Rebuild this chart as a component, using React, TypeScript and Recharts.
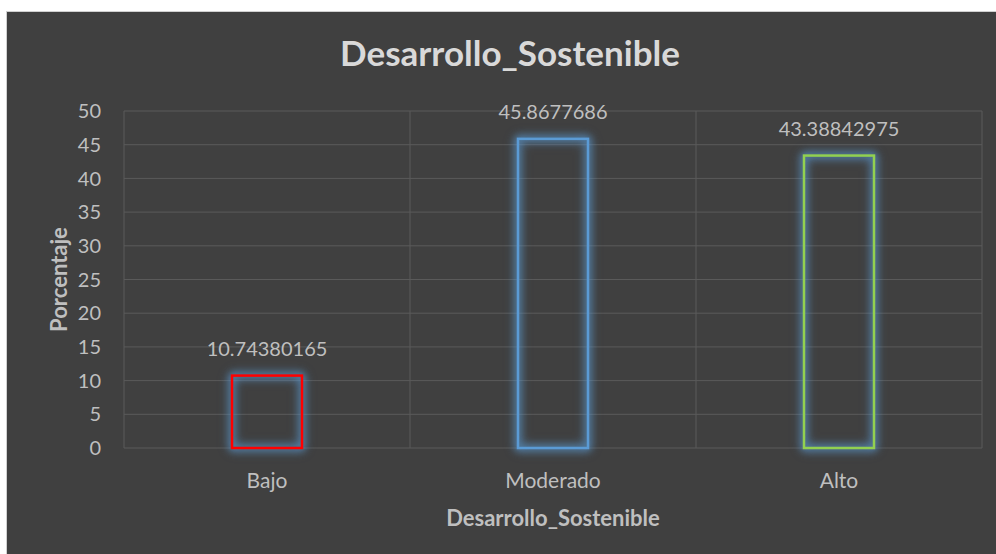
import React from "react";
import {
  BarChart,
  Bar,
  XAxis,
  YAxis,
  CartesianGrid,
  LabelList,
  Label,
} from "recharts";

const categories = ["Bajo", "Moderado", "Alto"];
const percentages = [10.74380165, 45.8677686, 43.38842975];
const barColors = ["#FF0000", "#5B9BD5", "#92D050"];
const yTicks = [0, 5, 10, 15, 20, 25, 30, 35, 40, 45, 50];

const data = categories.map((name, i) => ({
  name,
  value: percentages[i],
  slot: i + 0.5,
}));

const FONT = "Lato, 'Open Sans', sans-serif";
const TICK = { fontSize: 20, fill: "#BFBFBF", fontFamily: FONT };

// hollow bar with a soft blue glow around its outline
function GlowBar(props: any) {
  const { x, y, width, height, index } = props;
  return (
    <rect
      x={x}
      y={y}
      width={width}
      height={height}
      fill="none"
      stroke={barColors[index]}
      strokeWidth={2.5}
      style={{
        filter:
          "drop-shadow(0 0 5px rgba(91,155,213,1)) drop-shadow(0 0 3px rgba(91,155,213,0.8))",
      }}
    />
  );
}

export default function App() {
  return (
    <div
      style={{
        position: "absolute",
        left: 0,
        top: 0,
        width: 996,
        height: 554,
        background: "#FFFFFF",
        overflow: "hidden",
      }}
    >
      <div
        style={{
          position: "absolute",
          left: 6,
          top: 11,
          width: 996,
          height: 554,
          background: "#404040",
          borderLeft: "1px solid #D0D0D0",
          borderTop: "1px solid #D0D0D0",
        }}
      />
      <div
        style={{
          position: "absolute",
          left: 7,
          top: 31,
          width: 1006,
          textAlign: "center",
          fontFamily: FONT,
          fontWeight: 700,
          fontSize: 35,
          color: "#D9D9D9",
        }}
      >
        Desarrollo_Sostenible
      </div>
      <div style={{ position: "absolute", left: 0, top: 0 }}>
        <BarChart
          width={996}
          height={554}
          data={data}
          margin={{ top: 111, right: 14, bottom: 0, left: 0 }}
        >
          <CartesianGrid
            stroke="#5A5A5A"
            strokeWidth={1}
            xAxisId="slots"
            horizontal={true}
            vertical={true}
          />
          <XAxis
            xAxisId="slots"
            type="number"
            dataKey="slot"
            domain={[0, 3]}
            ticks={[0, 1, 2, 3]}
            hide
          />
          <XAxis
            dataKey="name"
            axisLine={false}
            tickLine={false}
            tickSize={0}
            tickMargin={25}
            tick={{ ...TICK, fontSize: 21 }}
            height={106}
          >
            <Label
              content={({ viewBox }: any) => (
                <text
                  x={viewBox.x + viewBox.width / 2}
                  y={viewBox.y + 78}
                  textAnchor="middle"
                  fill="#BFBFBF"
                  fontFamily={FONT}
                  fontWeight={700}
                  fontSize={22}
                >
                  Desarrollo_Sostenible
                </text>
              )}
            />
          </XAxis>
          <YAxis
            width={124}
            domain={[0, 50]}
            ticks={yTicks}
            axisLine={false}
            tickLine={false}
            tickSize={0}
            tickMargin={23}
            tick={TICK}
            interval={0}
          >
            <Label
              content={({ viewBox }: any) => {
                const cx = viewBox.x + 58;
                const cy = viewBox.y + viewBox.height / 2;
                return (
                  <text
                    x={cx}
                    y={cy}
                    transform={`rotate(-90 ${cx} ${cy})`}
                    textAnchor="middle"
                    dominantBaseline="central"
                    fill="#BFBFBF"
                    fontFamily={FONT}
                    fontWeight={700}
                    fontSize={22}
                  >
                    Porcentaje
                  </text>
                );
              }}
            />
          </YAxis>
          <Bar
            dataKey="value"
            barSize={70}
            shape={GlowBar}
            isAnimationActive={false}
          >
            <LabelList
              dataKey="value"
              position="top"
              offset={20}
              style={{ fontSize: 20, fill: "#BFBFBF", fontFamily: FONT }}
            />
          </Bar>
        </BarChart>
      </div>
    </div>
  );
}
